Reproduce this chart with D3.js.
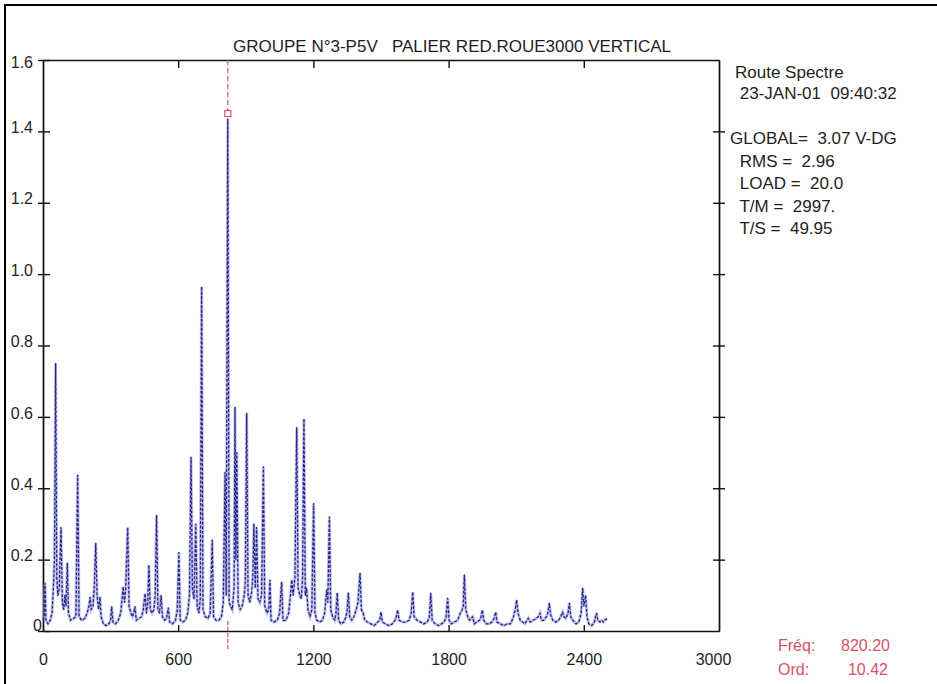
<!DOCTYPE html>
<html>
<head>
<meta charset="utf-8">
<script src="https://cdn.jsdelivr.net/npm/d3@7"></script>
<style>
  body { margin: 0; background: #fff; }
  svg { display: block; font-family: "Liberation Sans", Arial, sans-serif; }
</style>
</head>
<body>
<svg width="937" height="684"></svg>
<script>
// Tick values
const xTicks = [0, 600, 1200, 1800, 2400, 3000];
const yTicks = [0, 0.2, 0.4, 0.6, 0.8, 1.0, 1.2, 1.4, 1.6];

const title = "GROUPE N°3-P5V   PALIER RED.ROUE3000 VERTICAL";
const infoLines = ["Route Spectre", " 23-JAN-01  09:40:32", "GLOBAL=  3.07 V-DG", " RMS =  2.96", " LOAD =  20.0", " T/M =  2997.", " T/S =  49.95"];

// Cursor (red) position and readout
const cursorFreq = 820.20;
const cursorAmp = 1.45;
const cursorOrder = "10.42";

// Spectrum trace [Hz, amplitude], split in three bands
const trace0to600 = [[0,0.03],[5,0.04],[9,0.134],[13,0.03],[22,0.02],[32,0.03],[40,0.05],[46,0.12],[51,0.2],[56,0.75],[61,0.15],[66,0.1],[72,0.12],[80,0.29],[86,0.08],[92,0.06],[97,0.1],[102,0.07],[108,0.19],[113,0.05],[122,0.03],[135,0.035],[146,0.04],[154,0.437],[160,0.04],[172,0.03],[185,0.035],[196,0.05],[204,0.07],[209,0.095],[214,0.06],[222,0.07],[228,0.13],[234,0.246],[240,0.1],[247,0.06],[253,0.095],[258,0.04],[268,0.02],[280,0.015],[292,0.02],[300,0.03],[305,0.068],[310,0.025],[322,0.02],[334,0.03],[345,0.05],[351,0.09],[356,0.124],[362,0.08],[367,0.12],[376,0.29],[382,0.07],[390,0.05],[397,0.04],[402,0.05],[408,0.068],[414,0.03],[425,0.035],[438,0.04],[445,0.06],[453,0.105],[459,0.05],[465,0.08],[470,0.185],[476,0.06],[484,0.05],[492,0.06],[498,0.1],[504,0.325],[510,0.06],[517,0.05],[524,0.1],[530,0.04],[540,0.03],[548,0.035],[556,0.065],[562,0.025],[575,0.02],[588,0.03],[596,0.06],[603,0.22],[609,0.03]];

const trace600to1300 = [[620,0.025],[632,0.03],[642,0.05],[650,0.1],[657,0.487],[663,0.12],[670,0.09],[678,0.30],[684,0.07],[692,0.05],[698,0.09],[704,0.965],[710,0.06],[720,0.04],[732,0.035],[742,0.05],[751,0.255],[757,0.04],[768,0.03],[780,0.03],[792,0.04],[800,0.08],[808,0.445],[813,0.1],[820,1.435],[826,0.08],[832,0.07],[840,0.06],[848,0.12],[852,0.627],[856,0.2],[860,0.50],[866,0.08],[875,0.06],[884,0.07],[893,0.1],[898,0.14],[904,0.61],[910,0.1],[918,0.08],[926,0.11],[931,0.15],[936,0.30],[942,0.12],[948,0.29],[954,0.09],[962,0.08],[970,0.1],[978,0.46],[984,0.07],[994,0.05],[1002,0.06],[1007,0.143],[1012,0.03],[1025,0.025],[1040,0.03],[1050,0.05],[1059,0.137],[1065,0.03],[1078,0.03],[1090,0.05],[1098,0.1],[1104,0.143],[1110,0.1],[1118,0.15],[1126,0.57],[1132,0.12],[1140,0.1],[1146,0.09],[1152,0.15],[1158,0.595],[1164,0.1],[1170,0.12],[1176,0.06],[1185,0.04],[1193,0.06],[1201,0.357],[1207,0.05],[1215,0.03],[1228,0.025],[1240,0.03],[1250,0.05],[1259,0.115],[1264,0.08],[1271,0.32],[1277,0.06],[1285,0.04],[1295,0.03]];

const trace1300to2500 = [[1300,0.05],[1306,0.107],[1312,0.03],[1322,0.02],[1335,0.025],[1345,0.04],[1350,0.06],[1355,0.107],[1361,0.04],[1370,0.03],[1380,0.04],[1390,0.06],[1398,0.08],[1407,0.162],[1413,0.06],[1421,0.05],[1428,0.03],[1440,0.025],[1455,0.02],[1470,0.015],[1485,0.025],[1494,0.03],[1500,0.053],[1506,0.025],[1520,0.02],[1535,0.015],[1550,0.02],[1562,0.03],[1568,0.04],[1574,0.059],[1580,0.03],[1595,0.025],[1610,0.025],[1625,0.03],[1634,0.05],[1641,0.109],[1647,0.04],[1660,0.03],[1675,0.025],[1690,0.02],[1705,0.025],[1714,0.036],[1721,0.106],[1727,0.03],[1740,0.02],[1755,0.015],[1768,0.02],[1780,0.025],[1789,0.04],[1796,0.092],[1802,0.03],[1812,0.02],[1825,0.025],[1840,0.03],[1852,0.05],[1860,0.059],[1865,0.07],[1870,0.157],[1876,0.06],[1885,0.04],[1893,0.03],[1900,0.035],[1907,0.04],[1914,0.02],[1925,0.025],[1938,0.03],[1944,0.04],[1950,0.059],[1956,0.03],[1968,0.02],[1980,0.02],[1992,0.025],[2002,0.035],[2009,0.053],[2015,0.025],[2030,0.02],[2045,0.015],[2060,0.02],[2075,0.02],[2088,0.04],[2096,0.06],[2102,0.087],[2108,0.05],[2118,0.03],[2128,0.025],[2138,0.02],[2148,0.03],[2154,0.036],[2162,0.025],[2175,0.03],[2188,0.035],[2198,0.04],[2206,0.05],[2212,0.03],[2222,0.03],[2234,0.04],[2240,0.05],[2247,0.078],[2253,0.045],[2262,0.03],[2275,0.025],[2288,0.03],[2298,0.04],[2306,0.053],[2312,0.04],[2320,0.035],[2330,0.05],[2336,0.078],[2342,0.04],[2352,0.03],[2365,0.02],[2378,0.025],[2388,0.05],[2395,0.12],[2400,0.07],[2408,0.10],[2414,0.04],[2422,0.02],[2435,0.015],[2447,0.025],[2452,0.04],[2457,0.05],[2462,0.03],[2472,0.025],[2480,0.03],[2487,0.025],[2495,0.032],[2504,0.034]];

const svg = d3.select("svg");
const ink = "#1e1e1e";
const red = "#d9506a";

const x = d3.scaleLinear().domain([0, 3000]).range([43, 719]);
const y = d3.scaleLinear().domain([0, 1.6]).range([631, 60]);

// scanned page frame (left and top edges)
svg.append("path")
    .attr("d", "M5,684V5H937")
    .attr("fill", "none")
    .attr("stroke", "#000")
    .attr("stroke-width", 2);

// title
svg.append("text")
    .attr("x", 452).attr("y", 52)
    .attr("text-anchor", "middle")
    .attr("font-size", 17)
    .attr("fill", ink)
    .style("white-space", "pre")
    .text(title);

function styleAxis(g) {
  g.attr("font-family", null).attr("font-size", 16);
  g.selectAll("path, line").attr("stroke", "#111").attr("stroke-width", 1.4);
  g.selectAll("text").attr("fill", ink);
}

const yFmt = d => d === 0 ? "0" : d.toFixed(1);

// left axis, ticks crossing the line
svg.append("g")
    .attr("transform", `translate(${x(0)},0)`)
    .call(d3.axisLeft(y).tickValues(yTicks).tickSize(5).tickSizeOuter(0).tickPadding(5).tickFormat(yFmt))
    .call(styleAxis)
    .call(g => g.selectAll("text").attr("y", -4))
    .call(g => g.selectAll(".tick").filter(d => d === 1.6).select("text").attr("y", 2))
    .call(g => g.selectAll(".tick").filter(d => d === 0).select("text").attr("x", -1).attr("y", -6));
svg.append("g")
    .attr("transform", `translate(${x(0)},0)`)
    .call(d3.axisRight(y).tickValues(yTicks).tickSize(7).tickSizeOuter(0).tickFormat(""))
    .call(styleAxis);

// right axis, crossing ticks, no labels
svg.append("g")
    .attr("transform", `translate(${x(3000)},0)`)
    .call(d3.axisLeft(y).tickValues(yTicks.slice(1, -1)).tickSize(6).tickSizeOuter(0).tickFormat(""))
    .call(styleAxis);
svg.append("g")
    .attr("transform", `translate(${x(3000)},0)`)
    .call(d3.axisRight(y).tickValues(yTicks.slice(1, -1)).tickSize(6).tickSizeOuter(0).tickFormat(""))
    .call(styleAxis);

// top axis, ticks pointing down
svg.append("g")
    .attr("transform", `translate(0,${y(1.6)})`)
    .call(d3.axisBottom(x).tickValues(xTicks.slice(1, -1)).tickSize(8).tickSizeOuter(0).tickFormat(""))
    .call(styleAxis);

// bottom axis: ticks up, labels below
svg.append("g")
    .attr("transform", `translate(0,${y(0)})`)
    .call(d3.axisTop(x).tickValues(xTicks.slice(1, -1)).tickSize(6).tickSizeOuter(0).tickFormat(""))
    .call(styleAxis);
svg.append("g")
    .attr("transform", `translate(0,${y(0)})`)
    .call(d3.axisBottom(x).tickValues(xTicks).tickSize(0).tickPadding(23).tickFormat(d3.format("d")))
    .call(styleAxis)
    .call(g => g.select(".domain").remove())
    .call(g => g.selectAll(".tick").filter(d => d === 3000).select("text").attr("x", -6));

// spectrum
const spectrum = trace0to600.concat(trace600to1300, trace1300to2500);
const line = d3.line().x(d => x(d[0])).y(d => y(d[1]));

svg.append("path")
    .datum(spectrum)
    .attr("d", line)
    .attr("fill", "none")
    .attr("stroke", "#8f8fd8")
    .attr("stroke-opacity", 0.55)
    .attr("stroke-width", 3);
svg.append("path")
    .datum(spectrum)
    .attr("d", line)
    .attr("fill", "none")
    .attr("stroke", "#27278a")
    .attr("stroke-width", 1.3)
    .attr("stroke-dasharray", "3,1.5")
    .attr("stroke-linejoin", "round");

// red cursor
svg.append("line")
    .attr("x1", x(cursorFreq)).attr("x2", x(cursorFreq))
    .attr("y1", y(1.6)).attr("y2", y(cursorAmp) - 3)
    .attr("stroke", red)
    .attr("stroke-width", 1.2)
    .attr("stroke-dasharray", "5,3");
svg.append("line")
    .attr("x1", x(cursorFreq)).attr("x2", x(cursorFreq))
    .attr("y1", y(0) - 10).attr("y2", y(0) + 19)
    .attr("stroke", red)
    .attr("stroke-width", 1.2)
    .attr("stroke-dasharray", "4,2");
svg.append("rect")
    .attr("x", x(cursorFreq) - 3).attr("y", y(cursorAmp) - 3)
    .attr("width", 6).attr("height", 6)
    .attr("fill", "#fff")
    .attr("stroke", red)
    .attr("stroke-width", 1.2);

// info block on the right
const infoY = [78, 99, 144, 167, 189, 212, 234];
const infoX = [735, 735, 730, 735, 735, 735, 735];
svg.append("g")
    .attr("font-size", 17)
    .attr("fill", ink)
    .selectAll("text")
    .data(infoLines)
    .join("text")
    .style("white-space", "pre")
    .attr("x", (d, i) => infoX[i])
    .attr("y", (d, i) => infoY[i])
    .text(d => d);

// cursor readout
const readout = svg.append("g").attr("font-size", 16).attr("fill", red);
readout.append("text").attr("x", 778).attr("y", 651).text("Fréq:");
readout.append("text").attr("x", 890).attr("y", 651).attr("text-anchor", "end").text(cursorFreq.toFixed(2));
readout.append("text").attr("x", 778).attr("y", 675).text("Ord:");
readout.append("text").attr("x", 888).attr("y", 675).attr("text-anchor", "end").text(cursorOrder);
</script>
</body>
</html>
